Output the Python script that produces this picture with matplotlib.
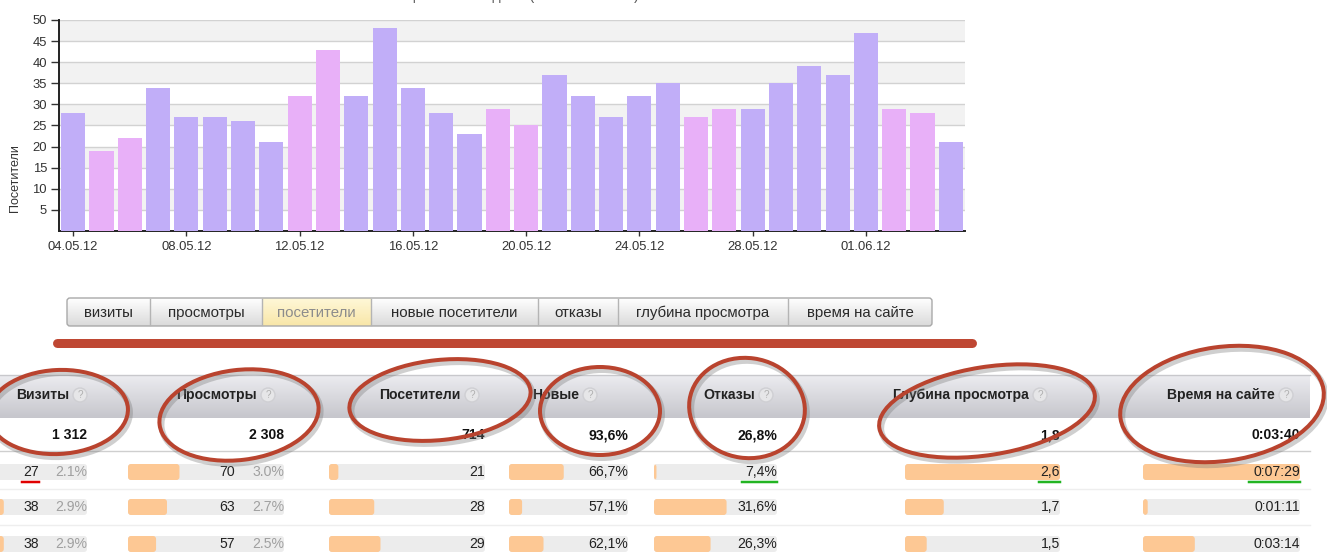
import datetime as dt

import matplotlib

matplotlib.use("Agg")
import matplotlib.pyplot as plt  # noqa: E402
import numpy as np  # noqa: E402
from matplotlib import font_manager  # noqa: E402
from matplotlib.colors import to_rgb  # noqa: E402
from matplotlib.patches import Circle, Ellipse, FancyBboxPatch, Rectangle  # noqa: E402

# ---- data -------------------------------------------------------------------
days = [
    "04.05.12", "05.05.12", "06.05.12", "07.05.12", "08.05.12", "09.05.12", "10.05.12", "11.05.12",
    "12.05.12", "13.05.12", "14.05.12", "15.05.12", "16.05.12", "17.05.12", "18.05.12", "19.05.12",
    "20.05.12", "21.05.12", "22.05.12", "23.05.12", "24.05.12", "25.05.12", "26.05.12", "27.05.12",
    "28.05.12", "29.05.12", "30.05.12", "31.05.12", "01.06.12", "02.06.12", "03.06.12", "04.06.12",
]
visitors = [28, 19, 22, 34, 27, 27, 26, 21, 32, 43, 32, 48, 34, 28, 23, 29,
            25, 37, 32, 27, 32, 35, 27, 29, 29, 35, 39, 37, 47, 29, 28, 21]
tick_days = ["04.05.12", "08.05.12", "12.05.12", "16.05.12", "20.05.12", "24.05.12", "28.05.12", "01.06.12"]

tabs = ["визиты", "просмотры", "посетители", "новые посетители", "отказы", "глубина просмотра", "время на сайте"]
active_tab = "посетители"

columns = ["Визиты", "Просмотры", "Посетители", "Новые", "Отказы", "Глубина просмотра", "Время на сайте"]
totals = ["1 312", "2 308", "714", "93,6%", "26,8%", "1,8", "0:03:40"]
row_values = [
    ["27", "70", "21", "66,7%", "7,4%", "2,6", "0:07:29"],
    ["38", "63", "28", "57,1%", "31,6%", "1,7", "0:01:11"],
    ["38", "57", "29", "62,1%", "26,3%", "1,5", "0:03:14"],
]
row_shares = [
    ["2.1%", "3.0%"],
    ["2.9%", "2.7%"],
    ["2.9%", "2.5%"],
]
row_fill = [
    [0.40, 0.33, 0.06, 0.46, 0.02, 1.00, 1.00],
    [0.47, 0.25, 0.29, 0.11, 0.59, 0.25, 0.03],
    [0.47, 0.18, 0.33, 0.29, 0.46, 0.14, 0.33],
]
# which cell of the first row is marked: red = worse, green = better
marks = {(0, 0): "red", (0, 4): "green", (0, 5): "green", (0, 6): "green"}

# ---- layout (pixels of the 1327x554 picture) --------------------------------
W, H = 1327, 554
PURPLE = "#c1aef8"
PINK = "#e8b0f8"
RED = "#b9432e"
ORANGE = "#fdc894"
BAR_BG = "#ececec"

col_bar = [(-70, 157), (128, 156), (329, 156), (509, 119), (654, 123), (905, 155), (1143, 157)]
col_num_right = [39, 235, 485, 628, 777, 1060, 1300]
col_share_right = [87, 284]
col_total_right = [87, 284, 485, 628, 777, 1060, 1300]
col_help_x = [80, 268, 472, 590, 766, 1040, 1286]
row_y = [472, 507, 544]
tab_edges = [67, 150, 262, 371, 538, 618, 788, 932]

names = {f.name for f in font_manager.fontManager.ttflist}
NARROW = "Liberation Sans Narrow" if "Liberation Sans Narrow" in names else "Liberation Sans"
plt.rcParams["font.family"] = ["Liberation Sans", "DejaVu Sans"]


def px(v):
    return v * 0.72


def vgrad(ax, x0, x1, y0, y1, c_top, c_bot, z, clip=None):
    t = np.linspace(0, 1, 64)[:, None, None]
    img = (1 - t) * np.array(to_rgb(c_top)) + t * np.array(to_rgb(c_bot))
    im = ax.imshow(img, extent=(x0, x1, y1, y0), aspect="auto", zorder=z, interpolation="bilinear")
    if clip is not None:
        im.set_clip_path(clip)
    return im


fig = plt.figure(figsize=(W / 100, H / 100), dpi=100)
bg = fig.add_axes([0, 0, 1, 1])
bg.axis("off")

# cut-off chart title at the very top
bg.text(505, 0, "Посещаемость по дням (все посетители)", ha="center", va="baseline",
        fontsize=px(14), color="#555555", zorder=5)

# ---- tab bar ----------------------------------------------------------------
bar_box = FancyBboxPatch((tab_edges[0], 298), tab_edges[-1] - tab_edges[0], 28,
                         boxstyle="round,pad=0,rounding_size=3", facecolor="none",
                         edgecolor="#a9a9a9", lw=1, zorder=4)
bg.add_patch(bar_box)
vgrad(bg, tab_edges[0], tab_edges[-1], 298, 326, "#ffffff", "#dadada", 2, clip=bar_box)
for i, name in enumerate(tabs):
    x0, x1 = tab_edges[i], tab_edges[i + 1]
    if name == active_tab:
        vgrad(bg, x0, x1, 298, 326, "#fff8d8", "#f8e6a8", 3)
    if i > 0:
        bg.plot([x0, x0], [299, 325], color="#b4b4b4", lw=1, zorder=4)
    bg.text((x0 + x1) / 2, 313, name, ha="center", va="center", fontsize=px(15),
            family=NARROW, color="#8c8c8c" if name == active_tab else "#2a2a2a", zorder=5)

# red stroke under the tabs
bg.plot([57, 972], [343, 343], color="#bf4733", lw=px(9), solid_capstyle="round", zorder=4)

# ---- table ------------------------------------------------------------------
vgrad(bg, 0, 1310, 375, 418, "#ececf0", "#c6c6cc", 1)
bg.plot([0, 1310], [375, 375], color="#c8c8cc", lw=1, zorder=2)
bg.plot([0, 1310], [451, 451], color="#cfcfcf", lw=1, zorder=2)
for y in (489, 525):
    bg.plot([0, 1310], [y, y], color="#eeeeee", lw=1, zorder=2)

for c, name in enumerate(columns):
    hx = col_help_x[c]
    bg.add_patch(Circle((hx, 395), 7, facecolor="#e6e6e8", edgecolor="#cfcfd3", lw=1, zorder=4))
    bg.text(hx, 395.5, "?", ha="center", va="center", fontsize=px(10), color="#b0b0b0", zorder=5)
    bg.text(hx - 11, 395, name, ha="right", va="center", fontsize=px(14), family=NARROW,
            fontweight="bold", color="#222222", zorder=5)
    bg.text(col_total_right[c], 435, totals[c], ha="right", va="center", fontsize=px(14),
            family=NARROW, fontweight="bold", color="#111111", zorder=5)

for r, y in enumerate(row_y):
    for c in range(len(columns)):
        x0, w = col_bar[c]
        bg.add_patch(FancyBboxPatch((x0, y - 8), w, 16, boxstyle="round,pad=0,rounding_size=3",
                                    facecolor=BAR_BG, edgecolor="none", zorder=2))
        fw = max(w * row_fill[r][c], 2)
        bg.add_patch(FancyBboxPatch((x0, y - 8), fw, 16, boxstyle="round,pad=0,rounding_size=3",
                                    facecolor=ORANGE, edgecolor="none", zorder=3))
        txt = bg.text(col_num_right[c], y, row_values[r][c], ha="right", va="center",
                      fontsize=px(14), family=NARROW, color="#222222", zorder=5)
        if (r, c) in marks:
            fig.canvas.draw()
            bb = txt.get_window_extent().transformed(bg.transData.inverted())
            color = "#e00000" if marks[(r, c)] == "red" else "#22b422"
            bg.plot([bb.x0, bb.x1], [y + 10, y + 10], color=color, lw=px(2.5), zorder=5)
    for c, share in enumerate(row_shares[r]):
        bg.text(col_share_right[c], y, share, ha="right", va="center", fontsize=px(14),
                family=NARROW, color="#a0a0a0", zorder=5)

# hand-drawn red ellipses around the headers
ellipses = [
    (58, 412, 140, 84, -3),
    (239, 415, 160, 90, -7),
    (440, 400, 182, 80, -6),
    (600, 411, 120, 88, 0),
    (747, 408, 116, 100, 8),
    (987, 411, 218, 88, -9),
    (1222, 404, 205, 114, -8),
]
for cx, cy, ew, eh, ang in ellipses:
    bg.add_patch(Ellipse((cx + 2, cy + 3), ew, eh, angle=ang, fill=False, edgecolor="#777777",
                         alpha=0.35, lw=px(6), zorder=6))
    bg.add_patch(Ellipse((cx, cy), ew, eh, angle=ang, fill=False, edgecolor=RED,
                         lw=px(4), zorder=7))

bg.set_xlim(0, W)
bg.set_ylim(H, 0)

# ---- bar chart --------------------------------------------------------------
ax = fig.add_axes([59 / W, 1 - 231 / H, (965 - 59) / W, (231 - 20) / H])
x = np.arange(len(visitors))
weekend = [dt.datetime.strptime(d, "%d.%m.%y").weekday() >= 5 for d in days]
ax.bar(x, visitors, width=0.85, color=[PINK if w else PURPLE for w in weekend], zorder=3)
for lo in range(5, 50, 10):
    ax.axhspan(lo, lo + 5, color="#f2f2f2", zorder=0, lw=0)
ax.set_xlim(-0.5, len(visitors) - 0.5)
ax.set_ylim(0, 50)
ax.set_yticks(range(5, 51, 5))
ax.yaxis.grid(True, color="#d2d2d2", lw=1, zorder=1)
ax.set_axisbelow(True)
ax.set_xticks([days.index(d) for d in tick_days])
ax.set_xticklabels(tick_days)
for s in ("top", "right"):
    ax.spines[s].set_visible(False)
for s in ("left", "bottom"):
    ax.spines[s].set_color("#222222")
    ax.spines[s].set_linewidth(1.4)
ax.tick_params(axis="y", length=px(8), width=1, pad=px(4), labelsize=px(13), colors="#333333")
ax.tick_params(axis="x", length=px(5), width=1, pad=px(5), labelsize=px(13), colors="#333333")
fig.text(15 / W, 1 - 178 / H, "Посетители", rotation=90, ha="center", va="center",
         fontsize=px(12.5), color="#333333")

fig.savefig("out.png", dpi=100)
